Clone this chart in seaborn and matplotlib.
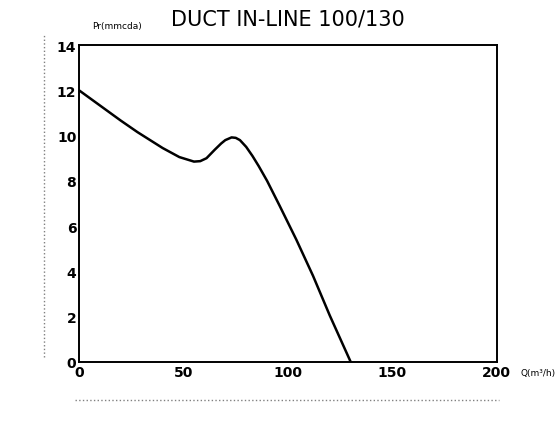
import matplotlib
matplotlib.use("Agg")
import matplotlib.pyplot as plt
import seaborn as sns
import pandas as pd

# data
flow = [0, 10, 20, 28, 40, 48, 55, 58, 61, 65, 68, 70, 73, 75, 77, 80, 83, 86, 90, 96, 104, 112, 120, 130]
pressure = [12.0, 11.33, 10.66, 10.15, 9.45, 9.05, 8.85, 8.87, 9.0, 9.38, 9.65, 9.8, 9.92, 9.9, 9.8, 9.5,
            9.1, 8.65, 8.0, 6.9, 5.4, 3.8, 2.05, 0.0]
x_ticks = [0, 50, 100, 150, 200]
y_ticks = [0, 2, 4, 6, 8, 10, 12, 14]

df = pd.DataFrame({"Q": flow, "Pr": pressure})

sns.set_theme(style="white")
plt.rcParams["font.family"] = ["DejaVu Sans"]
plt.rcParams["text.color"] = "black"

fig = plt.figure(figsize=(5.57, 4.35), dpi=100)
ax = fig.add_axes([0.142, 0.166, 0.75, 0.728])

sns.lineplot(data=df, x="Q", y="Pr", ax=ax, color="black", linewidth=1.8)

ax.set_xlim(0, 200)
ax.set_ylim(0, 14)
ax.set_xticks(x_ticks)
ax.set_yticks(y_ticks)
ax.tick_params(direction="in", length=3, width=1, colors="black", labelsize=10, pad=2)
for lab in ax.get_xticklabels() + ax.get_yticklabels():
    lab.set_fontweight("bold")
for s in ax.spines.values():
    s.set_color("black")
    s.set_linewidth(1.4)
ax.set_xlabel("")
ax.set_ylabel("")

fig.text(0.517, 0.955, "DUCT IN-LINE 100/130", ha="center", va="center", fontsize=15, color="black")
fig.text(0.21, 0.94, "Pr(mmcda)", ha="center", va="center", fontsize=6.5, color="black")
fig.text(0.935, 0.142, "Q(m³/h)", ha="left", va="center", fontsize=6.5, color="black")

# faint remnants of the secondary scales
fig.add_artist(plt.Line2D([0.079, 0.079], [0.177, 0.92], transform=fig.transFigure,
                          color="gray", linestyle=":", linewidth=1))
fig.add_artist(plt.Line2D([0.135, 0.895], [0.078, 0.078], transform=fig.transFigure,
                          color="gray", linestyle=":", linewidth=1))

fig.savefig("out.png", dpi=100)
